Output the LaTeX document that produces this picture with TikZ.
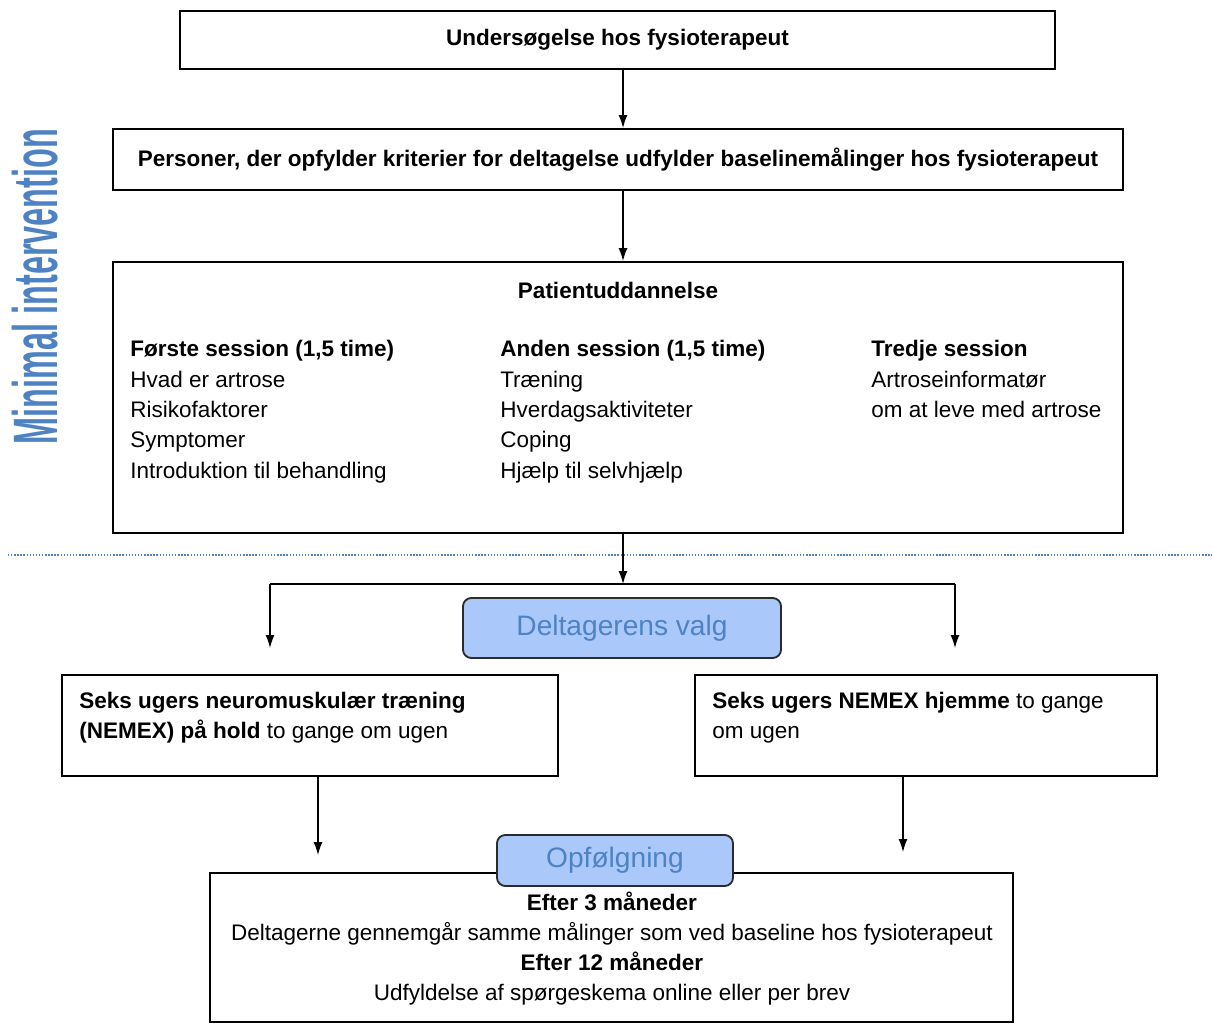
\documentclass[tikz,border=0pt]{standalone}
\usepackage{fontspec}
\setmainfont{Liberation Sans}
\usetikzlibrary{arrows.meta}
\definecolor{mintext}{HTML}{4F82C3}
\definecolor{minfill}{HTML}{AAC8FA}
\definecolor{minedge}{HTML}{2B2B2B}

\begin{document}
\begin{tikzpicture}[x=0.025cm, y=-0.025cm,
		box/.style={draw=black, line width=1.4pt, fill=white, inner sep=0pt},
		choice/.style={draw=minedge, line width=1.3pt, fill=minfill, rounded corners=6pt, text=mintext, inner sep=0pt, font=\fontsize{20}{22}\selectfont},
		txt/.style={inner sep=0pt, font=\fontsize{16}{21.5}\selectfont},
		arrow/.style={-{Latex[length=3.2mm, width=2.2mm]}, line width=0.9pt}]
		\useasboundingbox (0, 0) rectangle (1212, 1024);
		\node[rotate=90, anchor=base, text=mintext, font=\fontsize{44.6}{48}\selectfont\bfseries] (label) at (57, 286.5) {\scalebox{0.517}[1]{Minimal intervention}};
		\node[box, minimum width=21.875cm, minimum height=1.45cm] (exam) at (617.5, 40) {};
		\node[txt, font=\fontsize{16}{21.5}\selectfont\bfseries] (examtext) at (exam) {Undersøgelse hos fysioterapeut};
		\node[box, minimum width=25.25cm, minimum height=1.525cm] (crit) at (618, 159.5) {};
		\node[txt, font=\fontsize{16}{21.5}\selectfont\bfseries] (crittext) at (crit) {Personer, der opfylder kriterier for deltagelse udfylder baselinemålinger hos fysioterapeut};
		\node[box, minimum width=25.25cm, minimum height=6.775cm] (patient) at (618, 397.5) {};
		\node[txt, anchor=base, font=\fontsize{16}{21.5}\selectfont\bfseries] (patienttitle) at (618, 299) {Patientuddannelse};
		\node[txt, anchor=base west, font=\fontsize{16}{21.5}\selectfont\bfseries] (first) at (130, 357) {Første session (1,5 time)};
		\node[txt, anchor=base west, font=\fontsize{16}{21.5}\selectfont\bfseries] (second) at (500, 357) {Anden session (1,5 time)};
		\node[txt, anchor=base west, font=\fontsize{16}{21.5}\selectfont\bfseries] (third) at (871, 357) {Tredje session};
		\foreach \t [count=\i] in {Hvad er artrose, Risikofaktorer, Symptomer, Introduktion til behandling}
			\node[txt, anchor=base west] (first\i) at (130, 357 + 30.3*\i) {\t};
		\foreach \t [count=\i] in {Træning, Hverdagsaktiviteter, Coping, Hjælp til selvhjælp}
			\node[txt, anchor=base west] (second\i) at (500, 357 + 30.3*\i) {\t};
		\foreach \t [count=\i] in {Artroseinformatør, om at leve med artrose}
			\node[txt, anchor=base west] (third\i) at (871, 357 + 30.3*\i) {\t};
		\draw[mintext, line width=1.6pt, dash pattern=on 1pt off 1.2pt] (8, 555) -- (1212, 555);
		\coordinate (split) at (623, 584);
		\coordinate (splitL) at (270, 584);
		\coordinate (splitR) at (955, 584);
		\coordinate (endL) at (270, 648);
		\coordinate (endR) at (955, 648);
		\node[choice, minimum width=7.95cm, minimum height=1.5cm] (valg) at (622, 628) {Deltagerens valg};
		\node[box, minimum width=12.4cm, minimum height=2.525cm] (group) at (310, 725.5) {};
		\node[txt, anchor=base west] (group1) at (79, 708) {\textbf{Seks ugers neuromuskulær træning}};
		\node[txt, anchor=base west] (group2) at (79, 738.3) {\textbf{(NEMEX) på hold} to gange om ugen};
		\node[box, minimum width=11.55cm, minimum height=2.525cm] (home) at (926, 725.5) {};
		\node[txt, anchor=base west] (home1) at (712, 708) {\textbf{Seks ugers NEMEX hjemme} to gange};
		\node[txt, anchor=base west] (home2) at (712, 738.3) {om ugen};
		\coordinate (downL) at (318, 855);
		\coordinate (downR) at (903, 852);
		\node[box, minimum width=20.075cm, minimum height=3.725cm] (follow) at (611.5, 947.5) {};
		\node[choice, minimum width=5.9cm, minimum height=1.275cm] (opf) at (615, 860.5) {Opfølgning};
		\node[txt, anchor=base, font=\fontsize{16}{21.5}\selectfont\bfseries] (after3) at (612, 910) {Efter 3 måneder};
		\node[txt, anchor=base] (after3text) at (612, 940.3) {Deltagerne gennemgår samme målinger som ved baseline hos fysioterapeut};
		\node[txt, anchor=base, font=\fontsize{16}{21.5}\selectfont\bfseries] (after12) at (612, 970.6) {Efter 12 måneder};
		\node[txt, anchor=base] (after12text) at (612, 1000.9) {Udfyldelse af spørgeskema online eller per brev};
		\draw[arrow] (exam.south -| split) -- (crit.north -| split);
		\draw[arrow] (crit.south -| split) -- (patient.north -| split);
		\draw[arrow] (patient.south -| split) -- (split);
		\draw[line width=0.9pt] (splitL) -- (splitR);
		\draw[arrow] (splitL) -- (endL);
		\draw[arrow] (splitR) -- (endR);
		\draw[arrow] (group.south -| downL) -- (downL);
		\draw[arrow] (home.south -| downR) -- (downR);
	\end{tikzpicture}
\end{document}
